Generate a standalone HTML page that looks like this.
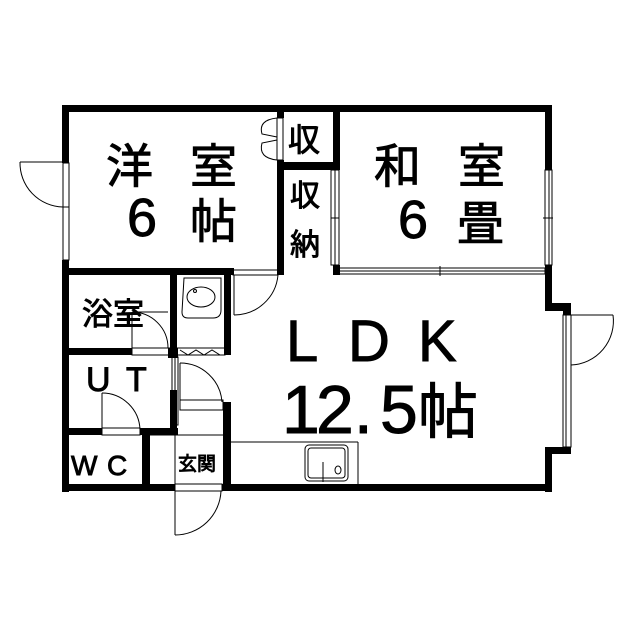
<!DOCTYPE html>
<html><head><meta charset="utf-8"><style>
html,body{margin:0;padding:0;background:#fff;width:639px;height:640px;overflow:hidden}
text{font-family:"Liberation Sans","Noto Sans CJK JP",sans-serif;fill:#000;stroke:#000;stroke-width:0.9}
</style></head><body>
<svg width="639" height="640" viewBox="0 0 639 640" xmlns="http://www.w3.org/2000/svg">
<g fill="#000">
<rect x="62" y="105" width="490" height="7"/>
<rect x="62" y="105" width="7" height="58"/>
<rect x="62" y="260" width="7" height="232"/>
<rect x="545" y="105" width="7" height="65"/>
<rect x="545" y="265" width="7" height="45"/>
<rect x="545" y="303" width="26" height="8"/>
<rect x="563" y="303" width="8" height="12"/>
<rect x="563" y="447" width="8" height="7"/>
<rect x="545" y="447" width="26" height="7"/>
<rect x="545" y="447" width="7" height="45"/>
<rect x="62" y="484" width="113" height="7"/>
<rect x="222" y="484" width="330" height="7"/>
<rect x="277" y="105" width="7" height="13"/>
<rect x="277" y="160" width="7" height="115"/>
<rect x="333" y="105" width="7" height="65"/>
<rect x="333" y="265" width="7" height="10"/>
<rect x="277" y="162" width="60" height="8"/>
<rect x="62" y="268" width="172" height="7"/>
<rect x="170" y="268" width="7" height="90"/>
<rect x="224" y="268" width="7" height="87"/>
<rect x="62" y="348" width="70" height="7"/>
<rect x="168" y="348" width="10" height="10"/>
<rect x="170" y="390" width="7" height="45"/>
<rect x="62" y="428" width="40" height="7"/>
<rect x="140" y="428" width="38" height="7"/>
<rect x="142" y="428" width="8" height="60"/>
<rect x="223" y="402" width="8" height="88"/>
</g>
<g fill="none" stroke="#000" stroke-width="1">
<rect x="63" y="163" width="6" height="97"/>
<line x1="63" y1="207" x2="69" y2="207"/>
<line x1="20" y1="162" x2="63" y2="162"/>
<path d="M20 162 A44 44 0 0 0 63 207"/>
<rect x="277" y="118" width="6" height="42"/>
<path d="M277 118 Q258 120 262 134 L277 137"/>
<path d="M277 160 Q258 158 262 143 L277 140"/>
<rect x="331" y="170" width="4" height="95"/><rect x="335" y="170" width="4" height="95"/>
<line x1="331" y1="218" x2="339" y2="218"/>
<rect x="545" y="170" width="4" height="95"/><rect x="549" y="170" width="3" height="95"/>
<line x1="543" y1="218" x2="553" y2="218"/>
<rect x="339" y="268" width="206" height="3"/><rect x="339" y="271" width="206" height="3"/>
<line x1="440" y1="266" x2="440" y2="276"/>
<rect x="563" y="315" width="8" height="132"/>
<rect x="566" y="315" width="5" height="132"/>
<line x1="571" y1="315" x2="613" y2="315"/>
<path d="M613 315 A44 44 0 0 1 571 365"/>
<rect x="233" y="270" width="45" height="5"/>
<line x1="234" y1="275" x2="234" y2="315"/>
<path d="M234 315 A44 44 0 0 0 278 275"/>
<path d="M184 278 h37 v32 q0 8 -8 8 h-25 q-6 0 -6 -6 z"/>
<ellipse cx="201" cy="297" rx="14" ry="10"/>
<circle cx="195" cy="291" r="1.5"/>
<rect x="177" y="348" width="48" height="7"/>
<path d="M180 350 l8 5 l8 -5 l8 5 l8 -5 l8 5"/>
<rect x="132" y="348" width="38" height="7"/>
<line x1="132" y1="348" x2="132" y2="312"/>
<path d="M132 312 A36 36 0 0 1 168 348" />
<line x1="132" y1="312" x2="168" y2="312"/>
<rect x="172" y="357" width="3" height="68"/><rect x="175" y="357" width="3" height="68"/>
<rect x="180" y="400" width="43" height="10"/>
<line x1="180" y1="363" x2="180" y2="400"/>
<path d="M180 363 A42 42 0 0 1 222 402"/>
<rect x="102" y="428" width="38" height="7"/>
<line x1="102" y1="428" x2="102" y2="393"/>
<path d="M102 393 A38 38 0 0 1 140 430"/>
<line x1="175" y1="435" x2="175" y2="484"/>
<line x1="150" y1="435" x2="223" y2="435"/>
<rect x="175" y="484" width="47" height="7"/>
<line x1="175" y1="491" x2="175" y2="535"/>
<path d="M175 535 A46 46 0 0 0 221 491"/>
<line x1="231" y1="442" x2="358" y2="442"/>
<line x1="358" y1="442" x2="358" y2="484"/>
<rect x="305" y="445" width="43" height="36" rx="4"/>
<rect x="308" y="448" width="37" height="30" rx="3"/>
<line x1="323" y1="462" x2="323" y2="482"/>
<ellipse cx="338" cy="470" rx="3" ry="4"/>
</g>
<g>
<text x="106" y="183" font-size="47">洋</text>
<text x="190" y="183" font-size="47">室</text>
<text x="127" y="236" font-size="54">6</text>
<text x="190" y="238" font-size="47">帖</text>
<text x="288" y="151" font-size="32">収</text>
<text x="290" y="206" font-size="30">収</text>
<text x="290" y="255" font-size="30">納</text>
<text x="374" y="183" font-size="47">和</text>
<text x="458" y="183" font-size="47">室</text>
<text x="398" y="238" font-size="54">6</text>
<text x="457" y="240" font-size="47">畳</text>
<text x="286" y="361" font-size="58">L</text>
<text x="348" y="361" font-size="58">D</text>
<text x="418" y="361" font-size="58">K</text>
<text x="282" y="433" font-size="68">1</text>
<text x="316" y="433" font-size="68">2.</text>
<text x="380" y="433" font-size="68">5</text>
<text x="418" y="433" font-size="60">帖</text>
<text x="82" y="325" font-size="31">浴室</text>
<text x="86" y="391" font-size="34">U</text>
<text x="126" y="391" font-size="34">T</text>
<text x="71" y="475" font-size="28">W</text>
<text x="107" y="475" font-size="28">C</text>
<text x="178" y="470" font-size="19">玄関</text>
</g>
</svg>
</body></html>
